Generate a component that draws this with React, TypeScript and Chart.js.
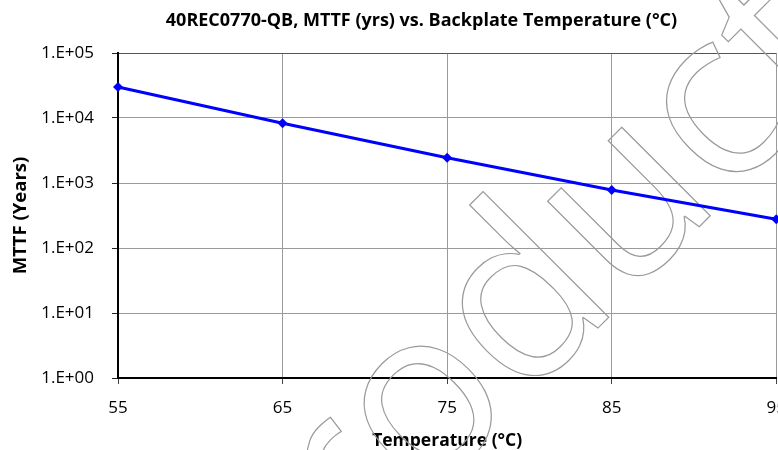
import React, { useEffect, useRef } from "react";
import { Chart, registerables } from "chart.js";

Chart.register(...registerables);

const temperatures = [55, 65, 75, 85, 95];
const mttfYears = [30000, 8300, 2450, 780, 276];
const yTickValues = [1, 10, 100, 1000, 10000, 100000];
const xTickValues = [55, 65, 75, 85, 95];
const chartTitle = "40REC0770-QB, MTTF (yrs) vs. Backplate Temperature (°C)";
const xAxisTitle = "Temperature (°C)";
const yAxisTitle = "MTTF (Years)";
const watermarkText = "Product";

const FONT = "'Open Sans', 'DejaVu Sans', sans-serif";

const watermarkPlugin = {
  id: "watermark",
  beforeDatasetsDraw(chart: any) {
    const ctx = chart.ctx;
    ctx.save();
    ctx.translate(255, 671);
    ctx.rotate(-Math.PI / 4);
    ctx.font = `234px ${FONT}`;
    ctx.textBaseline = "alphabetic";
    ctx.textAlign = "left";
    ctx.strokeStyle = "#9a9a9a";
    ctx.lineWidth = 1.2;
    ctx.strokeText(watermarkText, 0, 0);
    ctx.restore();
  },
};

const titlePlugin = {
  id: "customTitle",
  afterDraw(chart: any) {
    const ctx = chart.ctx;
    ctx.save();
    ctx.font = `bold 18px ${FONT}`;
    ctx.fillStyle = "#000";
    ctx.textAlign = "center";
    ctx.textBaseline = "middle";
    ctx.fillText(chartTitle, 421.5, 21);
    ctx.restore();
  },
};

function expLabel(v: number) {
  const e = Math.round(Math.log10(v));
  return `1.E+${String(e).padStart(2, "0")}`;
}

export default function App() {
  const ref = useRef<HTMLCanvasElement | null>(null);

  useEffect(() => {
    if (!ref.current) return;
    const chart = new Chart(ref.current, {
      type: "line",
      data: {
        datasets: [
          {
            data: temperatures.map((t, i) => ({ x: t, y: mttfYears[i] })),
            borderColor: "#0000ff",
            backgroundColor: "#0000ff",
            borderWidth: 3,
            pointStyle: "rectRot",
            pointRadius: 5,
            pointBorderWidth: 0,
            fill: false,
            tension: 0,
            clip: false as any,
          },
        ],
      },
      options: {
        animation: false,
        responsive: false,
        devicePixelRatio: 1,
        layout: { padding: { left: 0, right: 22, top: 53, bottom: 0 } },
        plugins: {
          legend: { display: false },
          tooltip: { enabled: false },
          title: { display: false },
        },
        scales: {
          x: {
            type: "linear",
            min: 55,
            max: 95,
            afterBuildTicks: (s: any) => {
              s.ticks = xTickValues.map((v) => ({ value: v }));
            },
            afterFit: (s: any) => {
              s.height = 72;
            },
            ticks: {
              color: "#000",
              font: { family: FONT, size: 17, lineHeight: 1.2 },
              padding: 14,
              maxRotation: 0,
              autoSkip: false,
            },
            grid: {
              color: "#9a9a9a",
              lineWidth: 1,
              tickLength: 6,
              tickColor: "#444",
            },
            border: { display: true, color: "#000", width: 2 },
            title: {
              display: true,
              text: xAxisTitle,
              color: "#000",
              font: { family: FONT, size: 17.5, weight: "bold", lineHeight: 1 },
              padding: { top: 0, bottom: 0 },
            },
          },
          y: {
            type: "logarithmic",
            min: 1,
            max: 100000,
            afterBuildTicks: (s: any) => {
              s.ticks = yTickValues.map((v) => ({ value: v, major: true }));
            },
            afterFit: (s: any) => {
              s.width = 118;
            },
            ticks: {
              color: "#000",
              font: { family: FONT, size: 17, lineHeight: 1.2 },
              padding: 18,
              autoSkip: false,
              callback: (v: any) => expLabel(Number(v)),
            },
            grid: {
              color: (c: any) => (c.tick && c.tick.value === 100000 ? "#555" : "#9a9a9a"),
              lineWidth: 1,
              tickLength: 6,
              tickColor: "#222",
            },
            border: { display: true, color: "#000", width: 2 },
            title: {
              display: true,
              text: yAxisTitle,
              color: "#000",
              font: { family: FONT, size: 18.5, weight: "bold", lineHeight: 1 },
              padding: { top: 11, bottom: 0 },
            },
          },
        },
      } as any,
      plugins: [watermarkPlugin, titlePlugin],
    });
    return () => chart.destroy();
  }, []);

  return (
    <div
      style={{
        position: "fixed",
        left: 0,
        top: 0,
        width: 778,
        height: 450,
        overflow: "hidden",
        background: "#fff",
      }}
    >
      <canvas ref={ref} width={800} height={450} style={{ width: 800, height: 450, display: "block" }} />
    </div>
  );
}
